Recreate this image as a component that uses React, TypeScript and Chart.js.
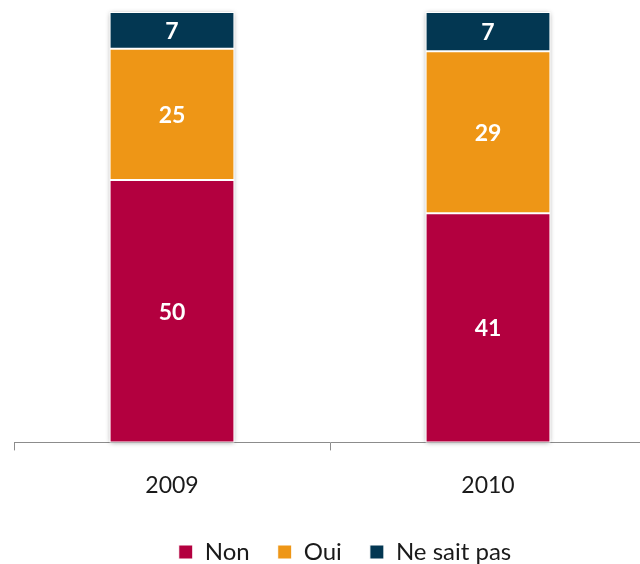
import React, { useEffect, useRef } from "react";
import { Chart, registerables } from "chart.js";

Chart.register(...registerables);

const categories = ["2009", "2010"];
const nonValues = [50, 41];
const ouiValues = [25, 29];
const nspValues = [7, 7];
const seriesNames = ["Non", "Oui", "Ne sait pas"];
const seriesColors = ["#B3003F", "#EE9616", "#033752"];

const FONT = "Lato, 'Open Sans', sans-serif";

export default function App() {
  const canvasRef = useRef<HTMLCanvasElement | null>(null);

  useEffect(() => {
    if (!canvasRef.current) return;
    const raw = [nonValues, ouiValues, nspValues];
    const totals = categories.map((_, i) => raw.reduce((s, arr) => s + arr[i], 0));
    const shares = raw.map((arr) => arr.map((v, i) => (v / totals[i]) * 100));

    const shadowPlugin = {
      id: "barShadow",
      beforeDatasetsDraw(chart: any) {
        const ctx = chart.ctx;
        const n = chart.data.datasets.length;
        const bottomMeta = chart.getDatasetMeta(0);
        const topMeta = chart.getDatasetMeta(n - 1);
        ctx.save();
        categories.forEach((_, i) => {
          const b: any = bottomMeta.data[i];
          const t: any = topMeta.data[i];
          if (!b || !t) return;
          const left = b.x - b.width / 2;
          const top = t.y;
          const bottom = b.base;
          ctx.shadowColor = "rgba(0,0,0,0.4)";
          ctx.shadowBlur = 5;
          ctx.shadowOffsetX = 0;
          ctx.shadowOffsetY = 1;
          ctx.fillStyle = "#ffffff";
          ctx.fillRect(left, top, b.width, bottom - top);
        });
        ctx.restore();
      },
    };

    const labelPlugin = {
      id: "valueLabels",
      afterDatasetsDraw(chart: any) {
        const ctx = chart.ctx;
        ctx.save();
        ctx.fillStyle = "#ffffff";
        ctx.font = `bold 23px ${FONT}`;
        ctx.textAlign = "center";
        ctx.textBaseline = "middle";
        chart.data.datasets.forEach((ds: any, di: number) => {
          const meta = chart.getDatasetMeta(di);
          meta.data.forEach((el: any, i: number) => {
            const v = raw[di][i];
            const y = (el.y + el.base) / 2;
            ctx.fillText(String(v), el.x, y + 1);
          });
        });
        ctx.restore();
      },
    };

    const legendShift = {
      id: "legendShift",
      afterLayout(chart: any) {
        if (chart.legend) {
          chart.legend.left += 15;
          chart.legend.right += 15;
        }
      },
    };

    const chart = new Chart(canvasRef.current, {
      type: "bar",
      data: {
        labels: categories,
        datasets: shares.map((arr, k) => ({
          label: seriesNames[k],
          data: arr,
          backgroundColor: seriesColors[k],
          borderColor: "#ffffff",
          borderWidth: 1,
          borderSkipped: false,
          categoryPercentage: 1,
          barPercentage: 0.395,
        })),
      },
      options: {
        animation: false,
        responsive: true,
        maintainAspectRatio: false,
        layout: { padding: { left: 14, right: 14, top: 12, bottom: 6 } },
        plugins: {
          legend: {
            position: "bottom",
            labels: {
              boxWidth: 14,
              boxHeight: 14,
              padding: 28,
              color: "#1a1a1a",
              font: { family: FONT, size: 24 },
            },
          },
          tooltip: { enabled: false },
        },
        scales: {
          x: {
            stacked: true,
            afterFit(scale: any) {
              scale.height -= 8;
            },
            grid: {
              drawOnChartArea: false,
              drawTicks: true,
              tickLength: 8,
              color: "#8c8c8c",
              offset: true,
            },
            border: { display: true, color: "#8c8c8c", width: 1 },
            ticks: {
              color: "#1a1a1a",
              font: { family: FONT, size: 23 },
              padding: 21,
            },
          },
          y: {
            stacked: true,
            display: false,
            min: 0,
            max: 100,
          },
        },
      },
      plugins: [shadowPlugin, labelPlugin, legendShift],
    });
    return () => chart.destroy();
  }, []);

  return (
    <div
      style={{
        position: "absolute",
        left: 0,
        top: 0,
        width: 640,
        height: 564,
        overflow: "hidden",
        background: "#ffffff",
      }}
    >
      <div style={{ width: 660, height: 580, position: "relative" }}>
        <canvas ref={canvasRef} />
      </div>
    </div>
  );
}
